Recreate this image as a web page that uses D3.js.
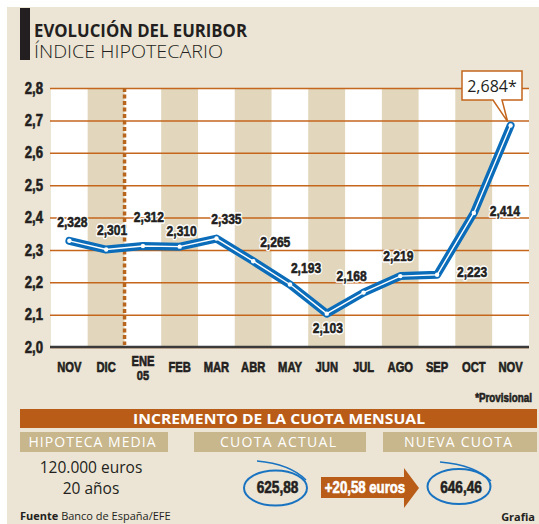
<!DOCTYPE html>
<html>
<head>
<meta charset="utf-8">
<script src="https://cdn.jsdelivr.net/npm/d3@7"></script>
<style>
  body { margin: 0; background: #fff; }
  svg { display: block; }
  .cond { font-family: "Liberation Sans", Arial, sans-serif; font-weight: bold; }
  .hum { font-family: "Open Sans", "Noto Sans", sans-serif; }
</style>
</head>
<body>
<div id="chart"></div>
<script>
// data
const months = ["NOV", "DIC", "ENE", "FEB", "MAR", "ABR", "MAY", "JUN", "JUL", "AGO", "SEP", "OCT", "NOV"];
const yearMark = { 2: "05" };
const euribor = [2.328, 2.301, 2.312, 2.310, 2.335, 2.265, 2.193, 2.103, 2.168, 2.219, 2.223, 2.414, 2.684];
const yTicks = [2.0, 2.1, 2.2, 2.3, 2.4, 2.5, 2.6, 2.7, 2.8];
const headers = ["HIPOTECA MEDIA", "CUOTA ACTUAL", "NUEVA CUOTA"];
const hipoteca = ["120.000 euros", "20 años"];
const cuotaActual = "625,88";
const incremento = "+20,58 euros";
const cuotaNueva = "646,46";

// label offsets from each point (dx, dy)
const labelOff = [[3, -14], [6, -15], [6, -24], [2, -11], [10, -15], [22, -14], [16, -12],
                  [1, 19], [-12, -12], [-2, -15], [35, 2], [31, 3]];

const W = 539, H = 524;
const svg = d3.select("#chart").append("svg").attr("width", W).attr("height", H);

// squeeze bold sans horizontally into a heavy condensed look
function condense(sel, k) {
  sel.each(function () {
    const t = d3.select(this);
    const tx = +t.attr("x") || 0, ty = +t.attr("y") || 0;
    t.attr("x", 0).attr("y", 0)
      .attr("transform", `translate(${tx},${ty}) scale(${k || 0.8},1)`);
    if (!t.attr("stroke")) t.attr("stroke", t.attr("fill")).attr("stroke-width", 0.6);
  });
}

// panel background
svg.append("rect").attr("x", 7).attr("y", 7).attr("width", W - 7).attr("height", H - 7).attr("fill", "#ece5d5");

// title
svg.append("rect").attr("x", 20).attr("y", 8).attr("width", 10).attr("height", 52).attr("fill", "#231f20");
svg.append("text").attr("class", "hum").attr("x", 34).attr("y", 37)
  .attr("font-size", 18).attr("font-weight", "bold").attr("fill", "#231f20")
  .attr("textLength", 213).attr("lengthAdjust", "spacingAndGlyphs")
  .text("EVOLUCIÓN DEL EURIBOR");
svg.append("text").attr("class", "hum").attr("x", 34).attr("y", 57.5)
  .attr("font-size", 17.5).attr("font-weight", 300).attr("fill", "#231f20")
  .attr("textLength", 189).attr("lengthAdjust", "spacingAndGlyphs")
  .text("ÍNDICE HIPOTECARIO");

// scales
const x0 = 51, x1 = 529, yTop = 88, yBot = 347;
const x = d3.scaleBand().domain(d3.range(months.length)).range([x0, x1]);
const y = d3.scaleLinear().domain([2.0, 2.8]).range([yBot, yTop]);

const plot = svg.append("g");

// columns
plot.selectAll("rect.col")
  .data(months)
  .join("rect")
  .attr("class", "col")
  .attr("x", (d, i) => x(i))
  .attr("y", yTop)
  .attr("width", x.bandwidth())
  .attr("height", yBot - yTop)
  .attr("fill", (d, i) => i % 2 ? "#e2d7bd" : "#ffffff");

// y axis + gridlines
const yAxis = plot.append("g")
  .attr("transform", `translate(${x0 - 1},0)`)
  .call(d3.axisLeft(y).tickValues(yTicks).tickSize(-(x1 - x0 + 1)).tickPadding(7)
    .tickFormat(d => d3.format(".1f")(d).replace(".", ",")));
yAxis.select(".domain").remove();
yAxis.selectAll(".tick line").attr("stroke", "#c4661c").attr("stroke-width", 1.5);
yAxis.selectAll(".tick text").attr("class", "cond").attr("font-size", 16).attr("fill", "#231f20")
  .attr("font-family", null).call(condense, 0.82);

// baseline
plot.append("line").attr("x1", x0 - 1).attr("x2", x1).attr("y1", yBot).attr("y2", yBot)
  .attr("stroke", "#3a3a3a").attr("stroke-width", 2.5);

// year break dotted line
plot.append("line").attr("x1", x(2)).attr("x2", x(2)).attr("y1", yTop).attr("y2", yBot - 2)
  .attr("stroke", "#b8651e").attr("stroke-width", 3.5).attr("stroke-dasharray", "4,2.5");

// x labels
const cx = i => x(i) + x.bandwidth() / 2;
plot.selectAll("text.xl")
  .data(months)
  .join("text")
  .attr("class", "cond xl")
  .attr("text-anchor", "middle")
  .attr("font-size", 14)
  .attr("fill", "#231f20")
  .attr("x", (d, i) => cx(i))
  .attr("y", (d, i) => yearMark[i] ? 366 : 372)
  .text(d => d)
  .call(condense, 0.8);
Object.keys(yearMark).forEach(i => {
  plot.append("text").attr("class", "cond").attr("text-anchor", "middle")
    .attr("font-size", 13.5).attr("fill", "#231f20")
    .attr("x", cx(+i)).attr("y", 380).text(yearMark[i]).call(condense, 0.82);
});

// line
const line = d3.line().x((d, i) => cx(i)).y(d => y(d));
plot.append("path").datum(euribor).attr("d", line).attr("fill", "none")
  .attr("stroke", "#0b6dba").attr("stroke-width", 8)
  .attr("stroke-linejoin", "round").attr("stroke-linecap", "round");
plot.append("path").datum(euribor).attr("d", line).attr("fill", "none")
  .attr("stroke", "#fff").attr("stroke-width", 1.4)
  .attr("stroke-linejoin", "round").attr("stroke-linecap", "round");
plot.selectAll("circle.pt")
  .data(euribor)
  .join("circle")
  .attr("class", "pt")
  .attr("cx", (d, i) => cx(i)).attr("cy", d => y(d)).attr("r", 2.2).attr("fill", "#fff");

// value labels: white halo underneath, heavy text on top
const fmt3 = d => d3.format(".3f")(d).replace(".", ",");
["halo", "val"].forEach(kind => {
  plot.selectAll("text." + kind)
    .data(euribor.slice(0, 12))
    .join("text")
    .attr("class", "cond " + kind)
    .attr("text-anchor", "middle")
    .attr("font-size", 15.5)
    .attr("fill", kind === "halo" ? "#fff" : "#231f20")
    .attr("stroke", kind === "halo" ? "#fff" : null)
    .attr("stroke-width", kind === "halo" ? 3.5 : null)
    .attr("stroke-linejoin", "round")
    .attr("x", (d, i) => cx(i) + labelOff[i][0])
    .attr("y", (d, i) => y(d) + labelOff[i][1])
    .text(fmt3)
    .call(condense, 0.78);
});

// callout for last value
const li = euribor.length - 1;
const px = cx(li), py = y(euribor[li]);
const call = svg.append("g");
call.append("path")
  .attr("d", `M462,71 H522 V100 H502 L${px - 3},${py - 4} L493,100 H462 Z`)
  .attr("fill", "#fff").attr("stroke", "#c4661c").attr("stroke-width", 1.5).attr("stroke-linejoin", "miter");
call.append("text").attr("class", "hum").attr("x", 492).attr("y", 92)
  .attr("text-anchor", "middle").attr("font-size", 16).attr("fill", "#231f20")
  .text(fmt3(euribor[li]) + "*");

// provisional note
svg.append("text").attr("class", "cond").attr("x", 532).attr("y", 402)
  .attr("text-anchor", "end").attr("font-size", 12).attr("fill", "#231f20")
  .text("*Provisional").call(condense, 0.82);

// bottom banner
svg.append("rect").attr("x", 20).attr("y", 409).attr("width", 517).attr("height", 19).attr("fill", "#b85c18");
svg.append("text").attr("class", "hum").attr("x", 279).attr("y", 424)
  .attr("text-anchor", "middle").attr("font-size", 14).attr("font-weight", "bold").attr("fill", "#fff")
  .attr("textLength", 292).attr("lengthAdjust", "spacingAndGlyphs")
  .text("INCREMENTO DE LA CUOTA MENSUAL");

const boxes = [[20, 168, 127], [194, 366, 116], [383, 537, 108]];
headers.forEach((h, i) => {
  const b = boxes[i];
  svg.append("rect").attr("x", b[0]).attr("y", 432).attr("width", b[1] - b[0]).attr("height", 20).attr("fill", "#c8b68c");
  svg.append("text").attr("class", "hum").attr("x", (b[0] + b[1]) / 2 - 2).attr("y", 447)
    .attr("text-anchor", "middle").attr("font-size", 14).attr("fill", "#fff")
    .attr("textLength", b[2]).attr("lengthAdjust", "spacing")
    .text(h);
});

hipoteca.forEach((t, i) => {
  svg.append("text").attr("class", "hum").attr("x", 91).attr("y", 473 + i * 21)
    .attr("text-anchor", "middle").attr("font-size", 15.5).attr("fill", "#231f20").text(t);
});

// circled values
function circled(cxp, cyp, txt, tail) {
  svg.append("ellipse").attr("cx", cxp).attr("cy", cyp).attr("rx", 31.5).attr("ry", 17.5)
    .attr("fill", "none").attr("stroke", "#1a73c1").attr("stroke-width", 2);
  svg.append("path").attr("d", tail).attr("fill", "none").attr("stroke", "#1a73c1").attr("stroke-width", 1.5);
  svg.append("text").attr("class", "cond").attr("x", cxp + 2).attr("y", 493)
    .attr("text-anchor", "middle").attr("font-size", 17).attr("fill", "#231f20")
    .text(txt).call(condense, 0.8);
}
circled(275.5, 488, cuotaActual, "M257,461 Q290,464 306,480");
circled(459, 486.5, cuotaNueva, "M440,462 Q475,465 491,481");

// arrow
svg.append("path")
  .attr("d", "M321,477 H404 V468 L419,488 L404,508 V498 H321 Z")
  .attr("fill", "#b85c18");
svg.append("text").attr("class", "cond").attr("x", 365).attr("y", 493)
  .attr("text-anchor", "middle").attr("font-size", 16.5).attr("fill", "#fff")
  .text(incremento).call(condense, 0.8);

// source
const src = svg.append("text").attr("class", "hum").attr("x", 20).attr("y", 520)
  .attr("font-size", 11).attr("fill", "#231f20");
src.append("tspan").attr("font-weight", "bold").text("Fuente ");
src.append("tspan").text("Banco de España/EFE");
svg.append("text").attr("class", "hum").attr("x", 535).attr("y", 521)
  .attr("text-anchor", "end").attr("font-size", 11).attr("font-weight", "bold").attr("fill", "#231f20")
  .text("Grafia");
</script>
</body>
</html>
